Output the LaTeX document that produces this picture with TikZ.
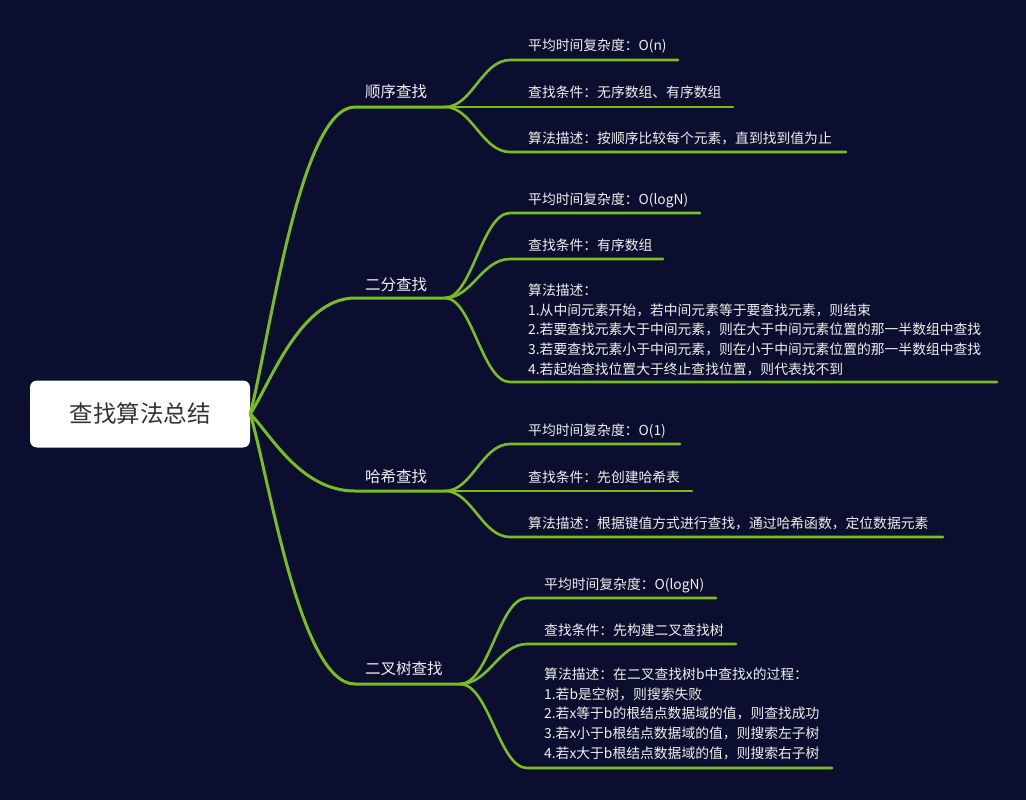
\documentclass[tikz,border=0pt]{standalone}
\usepackage{fontspec}
\newfontfamily\cjk{Noto Sans CJK SC}
\definecolor{bg}{RGB}{11,14,46}
\definecolor{gr}{RGB}{122,190,30}
\definecolor{txt}{RGB}{240,240,240}
\definecolor{roottxt}{RGB}{51,51,51}
\begin{document}
\begin{tikzpicture}[x=1pt,y=-1pt,
  leaf/.style={anchor=base west,inner sep=0pt,text=txt,font=\cjk\fontsize{13.8}{19.6}\selectfont,align=left},
  branch/.style={anchor=base west,inner sep=0pt,text=txt,font=\cjk\fontsize{15.5}{20}\selectfont},
  link/.style={draw=gr,line width=3pt,line cap=round},
  sublink/.style={draw=gr,line width=2.6pt,line cap=round}]
\fill[bg] (0,0) rectangle (1026,800);
\useasboundingbox (0,0) rectangle (1026,800);
\node[fill=white,rounded corners=7pt,minimum width=220pt,minimum height=67pt,inner sep=0pt,text=roottxt,font=\cjk\fontsize{23.5}{26}\selectfont] (root) at (140,414) {查找算法总结};
% ---------- branch 1
\node[branch] (b1) at (365,97) {顺序查找};
\coordinate (b1s) at (355,107);
\coordinate (b1f) at (445,107);
\node[leaf] (b1c1) at (528,51) {平均时间复杂度：O(n)};
\node[leaf] (b1c2) at (528,97) {查找条件：无序数组、有序数组};
\node[leaf] (b1c3) at (528,143) {算法描述：按顺序比较每个元素，直到找到值为止};
\coordinate (b1c1s) at (510,60); \coordinate (b1c1e) at (678,60);
\coordinate (b1c2e) at (733,107);
\coordinate (b1c3s) at (510,152); \coordinate (b1c3e) at (846,152);
% ---------- branch 2
\node[branch] (b2) at (365,290) {二分查找};
\coordinate (b2s) at (355,298);
\coordinate (b2f) at (445,298);
\node[leaf] (b2c1) at (528,204) {平均时间复杂度：O(logN)};
\node[leaf] (b2c2) at (528,250) {查找条件：有序数组};
\node[leaf] (b2c3) at (528,374) {算法描述：\\1.从中间元素开始，若中间元素等于要查找元素，则结束\\2.若要查找元素大于中间元素，则在大于中间元素位置的那一半数组中查找\\3.若要查找元素小于中间元素，则在小于中间元素位置的那一半数组中查找\\4.若起始查找位置大于终止查找位置，则代表找不到};
\coordinate (b2c1s) at (510,213); \coordinate (b2c1e) at (700,213);
\coordinate (b2c2s) at (510,259); \coordinate (b2c2e) at (663,259);
\coordinate (b2c3s) at (510,382); \coordinate (b2c3e) at (997,382);
% ---------- branch 3
\node[branch] (b3) at (365,482) {哈希查找};
\coordinate (b3s) at (355,491);
\coordinate (b3f) at (445,491);
\node[leaf] (b3c1) at (528,435) {平均时间复杂度：O(1)};
\node[leaf] (b3c2) at (528,482) {查找条件：先创建哈希表};
\node[leaf] (b3c3) at (528,528) {算法描述：根据键值方式进行查找，通过哈希函数，定位数据元素};
\coordinate (b3c1s) at (510,444); \coordinate (b3c1e) at (680,444);
\coordinate (b3c2e) at (692,491);
\coordinate (b3c3s) at (510,537); \coordinate (b3c3e) at (943,537);
% ---------- branch 4
\node[branch] (b4) at (365,674) {二叉树查找};
\coordinate (b4s) at (355,684);
\coordinate (b4f) at (460,684);
\node[leaf] (b4c1) at (544,589) {平均时间复杂度：O(logN)};
\node[leaf] (b4c2) at (544,635) {查找条件：先构建二叉查找树};
\node[leaf] (b4c3) at (544,758) {算法描述：在二叉查找树b中查找x的过程：\\1.若b是空树，则搜索失败\\2.若x等于b的根结点数据域的值，则查找成功\\3.若x小于b根结点数据域的值，则搜索左子树\\4.若x大于b根结点数据域的值，则搜索右子树};
\coordinate (b4c1s) at (527,598); \coordinate (b4c1e) at (716,598);
\coordinate (b4c2s) at (527,644); \coordinate (b4c2e) at (736,644);
\coordinate (b4c3s) at (527,768); \coordinate (b4c3e) at (832,768);
% ---------- root links
\path[link] (root.east) .. controls (270,337) and (300,107) .. (b1s) -- (b1f);
\path[link] (root.east) .. controls (270,384) and (300,298) .. (b2s) -- (b2f);
\path[link] (root.east) .. controls (270,433) and (300,491) .. (b3s) -- (b3f);
\path[link] (root.east) .. controls (270,481) and (300,684) .. (b4s) -- (b4f);
% ---------- sub links
\path[sublink] (b1f) .. controls (472,107) and (482,60) .. (b1c1s) -- (b1c1e);
\path[sublink] (b1f) -- (b1c2e);
\path[sublink] (b1f) .. controls (472,107) and (482,152) .. (b1c3s) -- (b1c3e);
\path[sublink] (b2f) .. controls (472,298) and (482,213) .. (b2c1s) -- (b2c1e);
\path[sublink] (b2f) .. controls (472,298) and (482,259) .. (b2c2s) -- (b2c2e);
\path[sublink] (b2f) .. controls (472,298) and (482,382) .. (b2c3s) -- (b2c3e);
\path[sublink] (b3f) .. controls (472,491) and (482,444) .. (b3c1s) -- (b3c1e);
\path[sublink] (b3f) -- (b3c2e);
\path[sublink] (b3f) .. controls (472,491) and (482,537) .. (b3c3s) -- (b3c3e);
\path[sublink] (b4f) .. controls (489,684) and (499,598) .. (b4c1s) -- (b4c1e);
\path[sublink] (b4f) .. controls (489,684) and (499,644) .. (b4c2s) -- (b4c2e);
\path[sublink] (b4f) .. controls (489,684) and (499,768) .. (b4c3s) -- (b4c3e);
\end{tikzpicture}
\end{document}
